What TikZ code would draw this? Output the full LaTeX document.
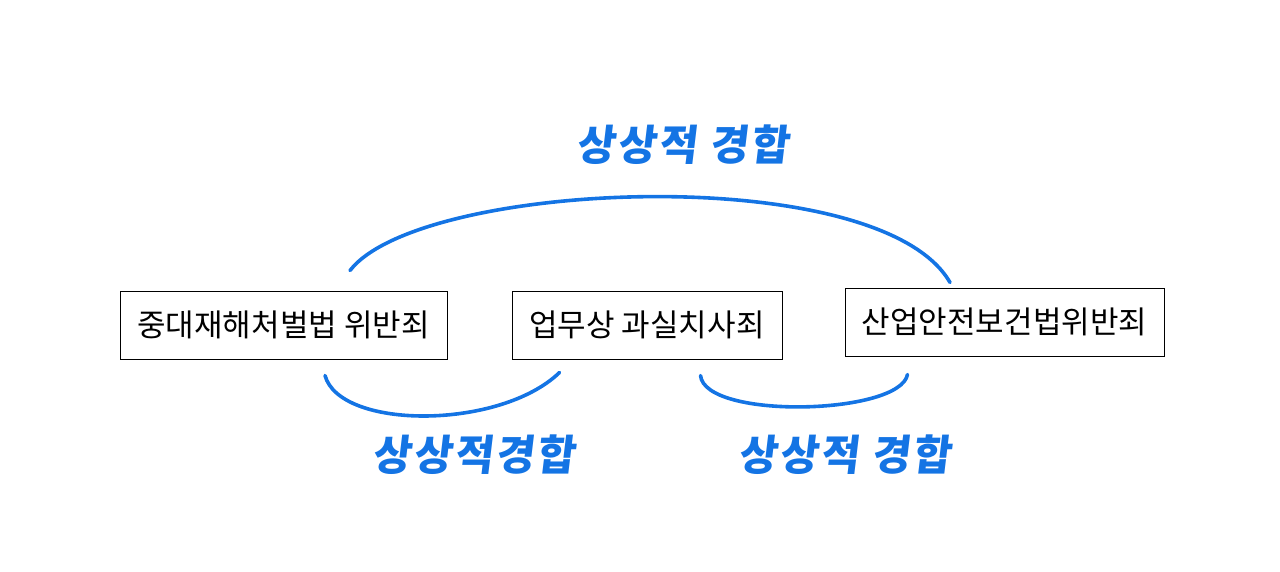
\documentclass[tikz,border=0pt]{standalone}
\usepackage{fontspec}
\usepackage{xcolor}
\usetikzlibrary{positioning,calc}
\newfontfamily\krfont{Noto Sans CJK KR}
\newfontfamily\krhand{Noto Sans CJK KR}[FakeSlant=0.12, LetterSpace=6]
\definecolor{pen}{HTML}{1474E4}

\begin{document}
\begin{tikzpicture}[x=1pt, y=-1pt,
        crime/.style={rectangle, draw=black, line width=1pt, inner sep=0pt,
                      minimum height=68pt, align=center,
                      font=\krfont\fontsize{31}{36}\selectfont},
        link/.style={pen, line width=3.6pt, line cap=round},
        hand/.style={text=pen, font=\krhand\bfseries\fontsize{42}{46}\selectfont}
    ]
        \useasboundingbox (0,0) rectangle (1280,572);

        % three boxes
        \node[crime, minimum width=327pt] (jung) at (283.5,325) {중대재해처벌법 위반죄};
        \node[crime, minimum width=270pt] (upmu) at (647,325) {업무상 과실치사죄};
        \node[crime, minimum width=319pt] (san) at (1004.5,322) {산업안전보건법위반죄};

        % arc ends
        \coordinate (ta) at ($(jung.north)+(66.5,-20)$);
        \coordinate (tb) at ($(san.north)+(-54.5,-5)$);
        \coordinate (la) at ($(jung.south)+(41.5,16)$);
        \coordinate (lb) at ($(upmu.south west)+(48,13)$);
        \coordinate (ra) at ($(upmu.south east)+(-82,16)$);
        \coordinate (rb) at ($(san.south west)+(63,18)$);

        % connecting arcs
        \draw[link] (ta) .. controls (420,180) and (880,160) .. (tb);
        \draw[link] (la) .. controls (340,430) and (500,430) .. (lb);
        \draw[link] (ra) .. controls (705,420) and (900,415) .. (rb);

        % labels
        \node[hand] (ltop) at (683,145) {상상적 경합};
        \node[hand] (lleft) at (474,455) {상상적경합};
        \node[hand] (lright) at (845,455) {상상적 경합};
    \end{tikzpicture}
\end{document}
